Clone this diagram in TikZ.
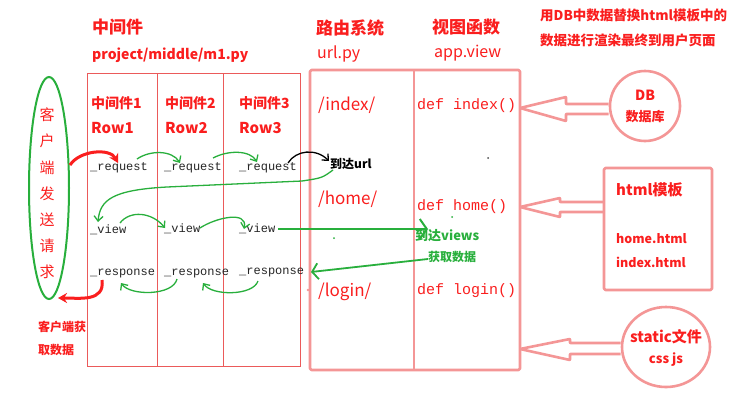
\documentclass[tikz,border=0pt]{standalone}
\usepackage{fontspec}
\setmainfont{Noto Sans CJK SC}
\newfontfamily\monof{Liberation Mono}
\usetikzlibrary{arrows.meta,shapes.geometric}
\definecolor{mred}{RGB}{250,30,30}
\definecolor{tline}{RGB}{235,90,90}
\definecolor{pinkl}{RGB}{244,150,150}
\definecolor{mgreen}{RGB}{40,175,60}
\tikzset{
  lbl/.style={inner sep=0pt, anchor=west, text=mred},
  tb/.style={lbl, font=\fontsize{#1}{#1}\selectfont\bfseries},
  tr/.style={lbl, font=\fontsize{#1}{#1}\selectfont},
  code/.style={inner sep=0pt, anchor=west, text=black!85, font=\monof\fontsize{12}{12}\selectfont},
  rcode/.style={inner sep=0pt, anchor=west, text=mred, font=\monof\fontsize{15}{15}\selectfont},
  gtxt/.style={inner sep=0pt, anchor=west, text=mgreen, font=\fontsize{#1}{#1}\selectfont\bfseries},
  sketch/.style={draw=pinkl, line width=2.6pt, line join=round, rounded corners=1.5pt},
  garrow/.style={draw=mgreen, line width=1.3pt, -{Straight Barb[length=5pt,width=9pt]}},
  rarrow/.style={draw=mred, line width=3pt, -{Stealth[length=9pt,width=10pt]}},
}
\begin{document}
\begin{tikzpicture}[x=1pt,y=-1pt]
\useasboundingbox (0,0) rectangle (743,400);
\fill[white] (0,0) rectangle (743,400);

% titles
\node[tb=17] (tmw) at (92,27) {中间件};
\node[tb=14] (tpath) at (92,55) {project/middle/m1.py};
\node[tb=17] (trt) at (316,28) {路由系统};
\node[tr=16] (turl) at (317,54) {url.py};
\node[tb=17] (tvw) at (432,27) {视图函数};
\node[tr=16] (tapp) at (434,53) {app.view};
\node[tb=13.5] (tnote1) at (540,15) {用DB中数据替换html模板中的};
\node[tb=13.5] (tnote2) at (540,40) {数据进行渲染最终到用户页面};

% middleware table
\draw[tline, line width=0.9pt] (87,73) rectangle (300,366);
\draw[tline, line width=0.9pt] (157,73) -- (157,366);
\draw[tline, line width=0.9pt] (223,73) -- (223,366);
\node[tb=14] (h1) at (91,103) {中间件1};
\node[tb=14] (h2) at (165,103) {中间件2};
\node[tb=14] (h3) at (239,103) {中间件3};
\node[tb=15] (w1) at (91,128) {Row1};
\node[tb=15] (w2) at (165,128) {Row2};
\node[tb=15] (w3) at (239,128) {Row3};

\node[code] (q1) at (90,168) {\_request};
\node[code] (q2) at (164,168) {\_request};
\node[code] (q3) at (239,168) {\_request};
\node[code] (v1) at (90,230) {\_view};
\node[code] (v2) at (164,229) {\_view};
\node[code] (v3) at (239,229) {\_view};
\node[code] (p1) at (90,274) {\_response};
\node[code] (p2) at (164,274) {\_response};
\node[code] (p3) at (239,273) {\_response};

% router / views boxes
\draw[sketch] (310,70) rectangle (520,370);
\draw[sketch] (414,70) -- (414,370);
\node[tr=17] (u1) at (318,105) {/index/};
\node[tr=17] (u2) at (318,199) {/home/};
\node[tr=17] (u3) at (318,292) {/login/};
\node[rcode] (d1) at (417,106) {def index()};
\node[rcode] (d2) at (417,207) {def home()};
\node[rcode] (d3) at (417,291) {def login()};

% client ellipse
\node[draw=mgreen, line width=2pt, ellipse, minimum width=40, minimum height=222, inner sep=0pt] (cli) at (49,188) {};
\node[text=mred, inner sep=0pt, align=center, font=\fontsize{15}{26.2}\selectfont] (clit) at (47,193.5) {客\\户\\端\\发\\送\\请\\求};
\node[tb=12] (get1) at (38,327) {客户端获};
\node[tb=12] (get2) at (38,350) {取数据};

% DB / html / static
\node[draw=pinkl, line width=2.6pt, circle, minimum size=70, inner sep=0pt] (db) at (645,106) {};
\node[tb=14, anchor=center] (dbt) at (645,95) {DB};
\node[tb=13, anchor=center] (dbt2) at (645,117) {数据库};
\draw[sketch] (604,168) rectangle (712,290);
\node[tb=15] (ht) at (616,190) {html模板};
\node[tb=12.5] (ht2) at (616,239) {home.html};
\node[tb=12.5] (ht3) at (616,262) {index.html};
\node[draw=pinkl, line width=2.6pt, ellipse, minimum width=88, minimum height=80, inner sep=0pt] (st) at (666,347) {};
\node[tb=15, anchor=center] (stt) at (666,337) {static文件};
\node[tb=13, anchor=center] (stt2) at (666,360) {css js};

% hollow arrows
\draw[sketch, rounded corners=0.5pt] (db.west |- 0,104) -- (566,104) -- (566,97) -- (520,108) -- (566,121) -- (566,114) -- (db.west |- 0,114);
\draw[sketch, rounded corners=0.5pt] (604,202) -- (560,202) -- (560,198) -- (520,207) -- (560,217) -- (560,212) -- (604,212);
\draw[sketch, rounded corners=0.5pt] (st.west |- 0,343) -- (570,343) -- (570,339) -- (520,349) -- (570,360) -- (570,354) -- (st.west |- 0,354);

% red arrows
\draw[rarrow] (70,165) .. controls (80,150) and (110,148) .. (118,163);
\draw[rarrow] (102,280) .. controls (105,302) and (80,298) .. (58,298);

% request chain
\draw[garrow] (137,159) .. controls (150,150) and (172,150) .. (180,163);
\draw[garrow] (213,158) .. controls (228,150) and (250,150) .. (257,162);
\draw[draw=black, line width=1.3pt, -{Straight Barb[length=5pt,width=9pt]}] (288,163) .. controls (296,150) and (316,148) .. (329,161);
\node[lbl, text=black, font=\fontsize{12}{12}\selectfont\bfseries] (rurl) at (330,164) {到达url};

% back to views
\draw[garrow] (333,170) .. controls (322,178) .. (302,181) -- (167,187) .. controls (112,190) and (100,200) .. (98,222);
\draw[garrow] (120,223) .. controls (130,210) and (152,212) .. (165,228);
\draw[garrow] (200,228) .. controls (215,218) and (248,210) .. (244,229);
\draw[draw=mgreen, line width=2pt, -{Straight Barb[length=7pt,width=20pt]}] (278,229) -- (428,229);
\node[gtxt=13] (rv) at (415,236) {到达views};
\node[gtxt=12] (gd) at (428,257) {获取数据};
\draw[draw=mgreen, line width=1.8pt, -{Straight Barb[length=6pt,width=16pt]}] (428,259) -- (311,272);

% response chain
\draw[garrow] (177,279) .. controls (173,296) and (130,296) .. (121,283);
\draw[garrow] (258,281) .. controls (253,296) and (212,296) .. (203,283);

% stray dots
\fill[black!70] (488,158) circle (1pt);
\fill[mgreen] (452,217) circle (1pt);
\fill[mgreen] (334,238) circle (1pt);
\fill[pinkl] (308,290) circle (1.3pt);
\end{tikzpicture}
\end{document}
